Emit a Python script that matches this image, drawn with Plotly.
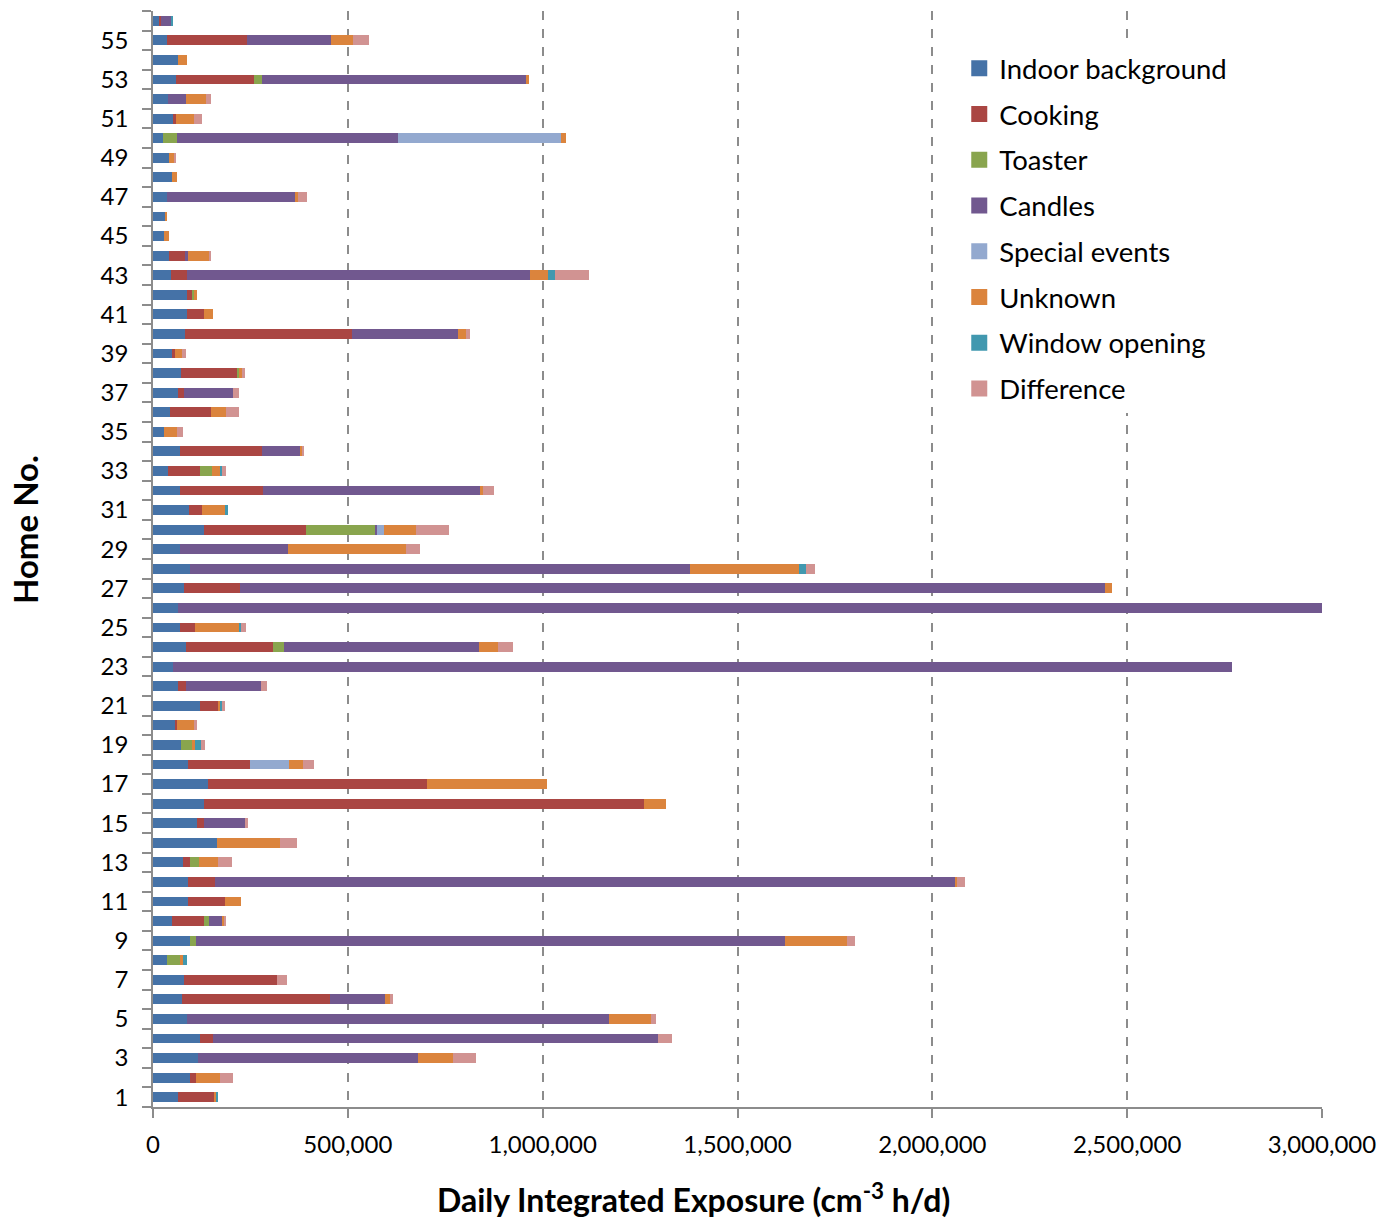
import plotly.graph_objects as go

homes = list(range(1, 57))

# values in thousands of cm^-3 h/d (home 1 .. home 56)
indoor_background = [64, 95, 116, 120, 86, 74, 80, 36, 94, 49, 91, 89, 77, 164, 114, 132, 140, 89, 71, 57,
                     120, 63, 51, 84, 68, 63, 79, 95, 68, 132, 93, 68, 39, 69, 29, 43, 64, 71, 50, 83,
                     87, 86, 47, 41, 28, 33, 35, 50, 41, 26, 52, 38, 58, 65, 36, 16]
cooking = [95, 16, 0, 35, 0, 381, 237, 0, 0, 83, 95, 70, 18, 0, 17, 1129, 563, 160, 0, 5,
           48, 22, 0, 223, 40, 0, 144, 0, 0, 260, 34, 215, 81, 210, 0, 107, 16, 147, 6, 427,
           45, 15, 39, 40, 0, 0, 0, 0, 0, 0, 7, 0, 200, 0, 205, 4]
toaster = [0, 0, 0, 0, 0, 0, 0, 33, 16, 12, 0, 0, 22, 0, 0, 0, 0, 0, 28, 0,
           0, 0, 0, 29, 0, 0, 0, 0, 0, 177, 0, 0, 32, 0, 0, 0, 0, 3, 0, 0,
           0, 3, 0, 0, 0, 0, 0, 0, 0, 35, 0, 0, 21, 0, 0, 0]
candles = [0, 0, 564, 1141, 1083, 141, 0, 0, 1513, 32, 0, 1898, 0, 0, 105, 0, 0, 0, 0, 0,
           0, 191, 2719, 501, 0, 2937, 2219, 1283, 278, 6, 0, 558, 0, 99, 0, 0, 126, 0, 0, 273,
           0, 0, 882, 9, 0, 0, 330, 0, 0, 567, 0, 46, 677, 0, 215, 28]
special_events = [0, 0, 0, 0, 0, 0, 0, 0, 0, 0, 0, 0, 0, 0, 0, 0, 0, 100, 0, 0,
                  0, 0, 0, 0, 0, 0, 0, 0, 0, 19, 0, 0, 0, 0, 0, 0, 0, 0, 0, 0,
                  0, 0, 0, 0, 0, 0, 0, 0, 0, 420, 0, 0, 0, 0, 0, 0]
unknown = [5, 62, 91, 0, 109, 13, 0, 9, 157, 7, 41, 7, 50, 161, 0, 56, 307, 37, 10, 42,
           3, 0, 0, 48, 113, 0, 20, 279, 304, 80, 60, 5, 20, 5, 33, 38, 0, 8, 19, 19,
           21, 10, 46, 55, 13, 3, 8, 11, 13, 13, 46, 52, 9, 23, 58, 0]
window_opening = [3, 0, 0, 0, 0, 0, 0, 9, 0, 0, 0, 0, 0, 0, 0, 0, 0, 0, 13, 0,
                  6, 0, 0, 0, 4, 0, 0, 18, 0, 0, 5, 0, 4, 0, 0, 0, 0, 0, 0, 0,
                  0, 0, 18, 0, 0, 0, 0, 0, 0, 0, 0, 0, 0, 0, 0, 2]
difference = [0, 32, 57, 35, 12, 7, 26, 0, 22, 3, 0, 21, 37, 45, 8, 0, 0, 28, 12, 10,
              8, 16, 0, 40, 13, 0, 0, 25, 34, 85, 0, 28, 11, 3, 15, 33, 15, 6, 9, 11,
              0, 0, 86, 5, 0, 0, 21, 0, 5, 0, 20, 12, 0, 0, 40, 0]

series_names = ["Indoor background", "Cooking", "Toaster", "Candles",
                "Special events", "Unknown", "Window opening", "Difference"]
series_values = [indoor_background, cooking, toaster, candles,
                 special_events, unknown, window_opening, difference]
series_colors = ["#4572A7", "#AA4643", "#89A54E", "#71588F",
                 "#93A9CF", "#DB843D", "#4198AF", "#D19392"]

x_ticks = [0, 500000, 1000000, 1500000, 2000000, 2500000, 3000000]
x_tick_labels = ["0", "500,000", "1,000,000", "1,500,000", "2,000,000", "2,500,000", "3,000,000"]
y_ticks = list(range(1, 56, 2))

FONT = "Lato"
GRID = "#8c8c8c"

fig = go.Figure()
for i, (name, vals, col) in enumerate(zip(series_names, series_values, series_colors)):
    fig.add_trace(go.Bar(
        y=homes, x=[v * 1000 for v in vals], name=name, orientation="h",
        marker=dict(color=col, line=dict(width=0)), width=0.5,
        legendgroup=str(i), showlegend=False,
    ))
# legend entries with larger square swatches
for i, (name, col) in enumerate(zip(series_names, series_colors)):
    fig.add_trace(go.Scatter(
        x=[None], y=[None], mode="markers", name=name,
        marker=dict(symbol="square", size=16, color=col),
        legendgroup=str(i), showlegend=True,
    ))

fig.update_layout(
    barmode="stack",
    width=1377, height=1219, autosize=False,
    plot_bgcolor="white", paper_bgcolor="white",
    margin=dict(l=153, r=55, t=11, b=112, autoexpand=False),
    font=dict(family=FONT, size=24, color="black"),
    showlegend=True,
    legend=dict(
        x=0.6897, y=0.97, xanchor="left", yanchor="top",
        traceorder="grouped", bgcolor="white", borderwidth=0,
        font=dict(family=FONT, size=27.5, color="black"),
        tracegroupgap=7, itemwidth=30,
    ),
    xaxis=dict(
        range=[0, 3000000], tickvals=x_ticks, ticktext=x_tick_labels,
        showgrid=True, gridcolor=GRID, griddash="dash", gridwidth=1.5,
        zeroline=False, showline=True, linecolor=GRID, linewidth=1.5,
        ticks="outside", ticklen=9, tickcolor=GRID, tickwidth=1.5,
        ticklabelstandoff=6, tickfont=dict(size=24), automargin=False,
    ),
    yaxis=dict(
        range=[0.5, 56.5], tickvals=y_ticks, ticktext=[str(v) for v in y_ticks],
        showgrid=False, zeroline=False, showline=True, linecolor=GRID, linewidth=1.5,
        ticks="outside", ticklen=9, tickcolor="rgba(0,0,0,0)",
        ticklabelstandoff=9, tickfont=dict(size=24), automargin=False,
        minor=dict(tickmode="linear", tick0=0.5, dtick=1, ticks="outside", ticklen=9,
                   tickcolor=GRID, tickwidth=1.5, showgrid=False),
    ),
    annotations=[
        dict(text="Daily Integrated Exposure (cm<sup>-3</sup> h/d)", xref="paper", yref="paper",
             x=(693 - 153) / 1169, y=0, xanchor="center", yanchor="middle", yshift=-91,
             showarrow=False, font=dict(family=FONT, size=32, color="black", weight="bold")),
        dict(text="Home No.", xref="paper", yref="paper", x=0, y=1 - (530 - 11) / 1096,
             xanchor="center", yanchor="middle", xshift=-128, textangle=-90,
             showarrow=False, font=dict(family=FONT, size=33, color="black", weight="bold")),
    ],
)

fig.write_html(
    "out.html",
    config={"displayModeBar": False, "responsive": False},
    post_script="document.body.style.margin='0';document.body.style.overflow='hidden';",
)
